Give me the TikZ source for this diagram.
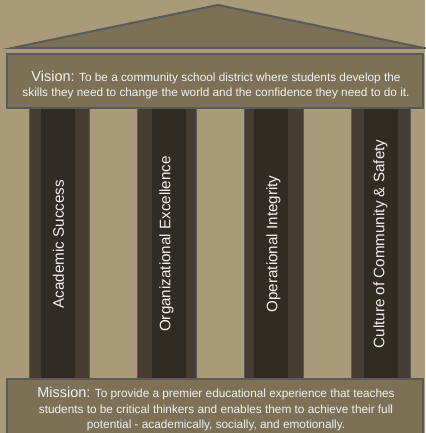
\documentclass[tikz,border=0pt]{standalone}
\usepackage{fontspec}
\setmainfont{Liberation Sans}
\definecolor{bg}{HTML}{A99B79}
\definecolor{roof}{HTML}{7C7156}
\definecolor{edge}{HTML}{5A5A5A}
\definecolor{pout}{HTML}{453D31}
\definecolor{pin}{HTML}{302B23}
\definecolor{txt}{HTML}{F2F2F2}
\newcommand{\myBigLabel}{\fontsize{14.5}{15.5}\selectfont}
\begin{document}
\begin{tikzpicture}[x=1pt,y=-1pt,
  panel/.style={fill=roof,draw=edge,line width=2pt},
  pouter/.style={fill=pout,draw=edge,line width=1pt},
  pinner/.style={fill=pin},
  plabel/.style={rotate=90,text=txt,font=\fontsize{15.2}{17}\selectfont},
  boxtext/.style={text=txt,align=center,font=\fontsize{11.8}{15.5}\selectfont}]
\fill[bg] (0,0) rectangle (425,433);
\useasboundingbox (0,0) rectangle (425,433);
% roof
\draw[panel,line join=miter] (12,48) -- (218,5) -- (424,48) -- cycle;
% pillars
\foreach \a/\b/\c/\d/\n in {29/89/41/75/1,137/196/152/186/2,244/303/254/288/3,351/410/364/398/4}{
  \draw[pouter] (\a,108) rectangle (\b,379);
  \fill[pinner] (\c,108.5) rectangle (\d,378.5);
}
\node[plabel] (p1) at (58.5,244) {Academic Success};
\node[plabel] (p2) at (166.5,244) {Organizational Excellence};
\node[plabel] (p3) at (273.5,244) {Operational Integrity};
\node[plabel] (p4) at (380.5,244) {Culture of Community \& Safety};
% vision
\draw[panel] (7,54) rectangle (423,108);
\node[boxtext] (vision) at (216,85) {{\myBigLabel Vision:} To be a community school district where students develop the\\skills they need to change the world and the confidence they need to do it.};
% mission
\draw[panel] (7,379) rectangle (423,434);
\node[boxtext] (mission) at (216,409) {{\myBigLabel Mission:} To provide a premier educational experience that teaches\\students to be critical thinkers and enables them to achieve their full\\potential - academically, socially, and emotionally.};
\end{tikzpicture}
\end{document}
